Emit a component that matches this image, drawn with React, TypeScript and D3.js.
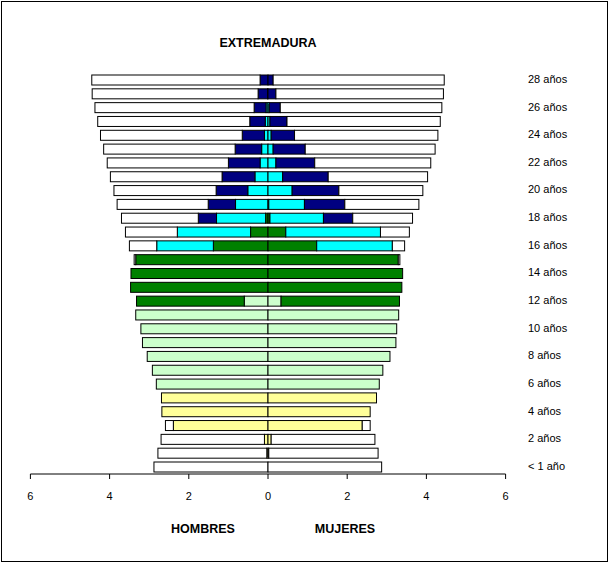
import React from "react";
import * as d3 from "d3";

// Age categories, bottom (age 0) to top (age 28)
const ages = [
  "< 1 año", "1 año", "2 años", "3 años", "4 años", "5 años", "6 años", "7 años",
  "8 años", "9 años", "10 años", "11 años", "12 años", "13 años", "14 años", "15 años",
  "16 años", "17 años", "18 años", "19 años", "20 años", "21 años", "22 años", "23 años",
  "24 años", "25 años", "26 años", "27 años", "28 años",
];
const shownAgeLabels = [
  "< 1 año", "2 años", "4 años", "6 años", "8 años", "10 años", "12 años", "14 años",
  "16 años", "18 años", "20 años", "22 años", "24 años", "26 años", "28 años",
];

// Stack order from the centre outwards
const levels = ["Infantil", "Primaria", "ESO", "Secundaria post.", "Superior", "No estudia"];
const levelColors = ["#FFFF99", "#CCFFCC", "#008000", "#00FFFF", "#000080", "#FFFFFF"];

// HOMBRES (men), percent, index = age
const menInfantil = [0, 0.03, 0.09, 2.39, 2.68, 2.69, 0, 0, 0, 0, 0, 0, 0, 0, 0, 0, 0, 0, 0, 0, 0, 0, 0, 0, 0, 0, 0, 0, 0];
const menPrimaria = [0, 0, 0, 0, 0, 0, 2.82, 2.92, 3.05, 3.17, 3.21, 3.34, 0.6, 0, 0, 0, 0, 0, 0, 0, 0, 0, 0, 0, 0, 0, 0, 0, 0];
const menESO = [0, 0, 0, 0, 0, 0, 0, 0, 0, 0, 0, 0, 2.72, 3.47, 3.46, 3.34, 1.38, 0.44, 0.06, 0, 0, 0, 0, 0, 0, 0, 0, 0, 0];
const menPost = [0, 0, 0, 0, 0, 0, 0, 0, 0, 0, 0, 0, 0, 0, 0, 0, 1.43, 1.85, 1.24, 0.82, 0.51, 0.33, 0.2, 0.16, 0.09, 0.07, 0.05, 0.01, 0];
const menSup = [0, 0, 0, 0, 0, 0, 0, 0, 0, 0, 0, 0, 0, 0, 0, 0, 0, 0, 0.46, 0.69, 0.8, 0.83, 0.8, 0.67, 0.56, 0.39, 0.3, 0.24, 0.2];
const menNo = [2.88, 2.75, 2.61, 0.2, 0, 0, 0, 0, 0, 0, 0, 0, 0, 0, 0, 0.04, 0.69, 1.31, 1.94, 2.3, 2.58, 2.82, 3.06, 3.32, 3.58, 3.84, 4.02, 4.19, 4.25];

// MUJERES (women)
const womenInfantil = [0, 0.02, 0.08, 2.38, 2.58, 2.74, 0, 0, 0, 0, 0, 0, 0, 0, 0, 0, 0, 0, 0, 0, 0, 0, 0, 0, 0, 0, 0, 0, 0];
const womenPrimaria = [0, 0, 0, 0, 0, 0, 2.81, 2.9, 3.08, 3.23, 3.25, 3.3, 0.33, 0, 0, 0, 0, 0, 0, 0, 0, 0, 0, 0, 0, 0, 0, 0, 0];
const womenESO = [0, 0, 0, 0, 0, 0, 0, 0, 0, 0, 0, 0, 2.99, 3.38, 3.4, 3.29, 1.23, 0.45, 0.05, 0.02, 0, 0, 0, 0, 0, 0, 0, 0, 0];
const womenPost = [0, 0, 0, 0, 0, 0, 0, 0, 0, 0, 0, 0, 0, 0, 0, 0, 1.91, 2.39, 1.35, 0.9, 0.61, 0.37, 0.2, 0.13, 0.08, 0.05, 0.03, 0, 0];
const womenSup = [0, 0, 0, 0, 0, 0, 0, 0, 0, 0, 0, 0, 0, 0, 0, 0, 0, 0, 0.74, 1.02, 1.18, 1.15, 0.98, 0.81, 0.59, 0.43, 0.28, 0.2, 0.13];
const womenNo = [2.87, 2.76, 2.62, 0.2, 0, 0, 0, 0, 0, 0, 0, 0, 0, 0, 0, 0.04, 0.31, 0.73, 1.51, 1.87, 2.12, 2.51, 2.93, 3.28, 3.62, 3.87, 4.08, 4.23, 4.32];

const xTicks = [-6, -4, -2, 0, 2, 4, 6];

const W = 609;
const H = 563;
const FONT = "Arial, 'Liberation Sans', Helvetica, sans-serif";

type Seg = { age: string; x0: number; x1: number; color: string; key: string };

function buildSegs(series: number[][], sign: number, side: string): Seg[] {
  const out: Seg[] = [];
  ages.forEach((age, i) => {
    let cum = 0;
    series.forEach((s, k) => {
      const v = s[i];
      if (v > 0) {
        out.push({ age, x0: sign * cum, x1: sign * (cum + v), color: levelColors[k], key: `${side}-${i}-${k}` });
      }
      cum += v;
    });
  });
  return out;
}

export default function App() {
  const x = d3.scaleLinear().domain([-6, 6]).range([30.4, 505.6]);
  const y = d3.scalePoint<string>().domain([...ages].reverse()).range([80, 467]);
  const barH = 10;
  const axisY = 474;

  const men = buildSegs([menInfantil, menPrimaria, menESO, menPost, menSup, menNo], -1, "m");
  const women = buildSegs([womenInfantil, womenPrimaria, womenESO, womenPost, womenSup, womenNo], 1, "w");
  const segs = [...men, ...women];

  return (
    <svg
      width={W}
      height={H}
      style={{ position: "absolute", left: 0, top: 0, display: "block", background: "#fff" }}
      fontFamily={FONT}
    >
      <rect x={1.5} y={1.5} width={W - 3} height={H - 3} fill="#fff" stroke="#000" strokeWidth={1} />

      <text x={268} y={44} textAnchor="middle" dominantBaseline="middle" fontSize={12.5} fontWeight="bold">
        EXTREMADURA
      </text>

      {segs.map((s) => {
        const a = x(Math.min(s.x0, s.x1));
        const b = x(Math.max(s.x0, s.x1));
        return (
          <rect
            key={s.key}
            x={a}
            y={(y(s.age) as number) - barH / 2}
            width={b - a}
            height={barH}
            fill={s.color}
            stroke="#000"
            strokeWidth={1}
          />
        );
      })}

      {/* age labels */}
      {shownAgeLabels.map((lab) => (
        <text key={lab} x={528} y={y(lab) as number} dominantBaseline="middle" fontSize={11}>
          {lab}
        </text>
      ))}

      {/* x axis */}
      <line x1={x(-6)} x2={x(6)} y1={axisY} y2={axisY} stroke="#000" strokeWidth={1} />
      {xTicks.map((t) => (
        <g key={t}>
          <line x1={x(t)} x2={x(t)} y1={axisY} y2={axisY + 5} stroke="#000" strokeWidth={1} />
          <text x={x(t)} y={497} textAnchor="middle" dominantBaseline="middle" fontSize={11}>
            {Math.abs(t)}
          </text>
        </g>
      ))}

      <text x={203} y={530} textAnchor="middle" dominantBaseline="middle" fontSize={12.5} fontWeight="bold">
        HOMBRES
      </text>
      <text x={345} y={530} textAnchor="middle" dominantBaseline="middle" fontSize={12.5} fontWeight="bold">
        MUJERES
      </text>
    </svg>
  );
}
